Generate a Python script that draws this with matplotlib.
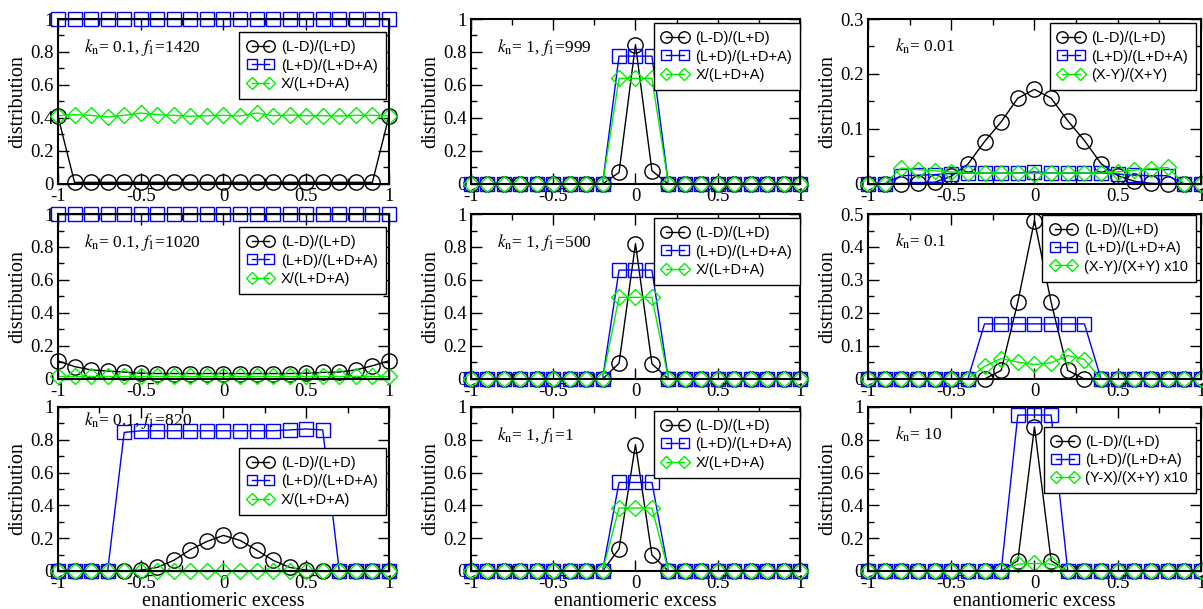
import numpy as np
import matplotlib
matplotlib.use('Agg')
import matplotlib.pyplot as plt
from matplotlib.ticker import MultipleLocator, FormatStrFormatter

plt.rcParams['font.family'] = ['Liberation Serif', 'DejaVu Serif']
plt.rcParams['mathtext.fontset'] = 'stix'
plt.rcParams['axes.unicode_minus'] = False

# enantiomeric excess grid, -1 .. 1 in steps of 0.1
ee = np.round(np.arange(-1, 1.0001, 0.1), 2)

# panel labels
titles = [
    [r'$k_{\rm n}$= 0.1, $f_1$=1420', r'$k_{\rm n}$= 1, $f_1$=999', r'$k_{\rm n}$= 0.01'],
    [r'$k_{\rm n}$= 0.1, $f_1$=1020', r'$k_{\rm n}$= 1, $f_1$=500', r'$k_{\rm n}$= 0.1'],
    [r'$k_{\rm n}$= 0.1, $f_1$=820', r'$k_{\rm n}$= 1, $f_1$=1', r'$k_{\rm n}$= 10'],
]
third_labels = [
    ['X/(L+D+A)', 'X/(L+D+A)', '(X-Y)/(X+Y)'],
    ['X/(L+D+A)', 'X/(L+D+A)', '(X-Y)/(X+Y) x10'],
    ['X/(L+D+A)', 'X/(L+D+A)', '(Y-X)/(X+Y) x10'],
]

# row 1
ld_1420 = [0.41, 0.01, 0.01, 0.01, 0.01, 0.01, 0.01, 0.01, 0.01, 0.01, 0.01,
           0.01, 0.01, 0.01, 0.01, 0.01, 0.01, 0.01, 0.01, 0.01, 0.41]
lda_1420 = [1.0] * 21
x_1420 = [0.414, 0.42, 0.416, 0.406, 0.416, 0.43, 0.42, 0.416, 0.41, 0.414, 0.416,
          0.412, 0.43, 0.414, 0.418, 0.414, 0.414, 0.412, 0.416, 0.416, 0.412]

ld_999 = [0, 0, 0, 0, 0, 0, 0, 0, 0, 0.07, 0.845, 0.08, 0, 0, 0, 0, 0, 0, 0, 0, 0]
lda_999 = [0, 0, 0, 0, 0, 0, 0, 0, 0, 0.775, 0.775, 0.775, 0, 0, 0, 0, 0, 0, 0, 0, 0]
x_999 = [0, 0, 0, 0, 0, 0, 0, 0, 0, 0.64, 0.64, 0.64, 0, 0, 0, 0, 0, 0, 0, 0, 0]

ld_k001 = [0, 0, 0, 0.002, 0.003, 0.014, 0.036, 0.077, 0.113, 0.156, 0.172,
           0.156, 0.115, 0.079, 0.037, 0.015, 0.005, 0.001, 0, 0, 0]
lda_k001 = [0, 0, 0.015, 0.016, 0.017, 0.019, 0.02, 0.02, 0.02, 0.02, 0.022,
            0.02, 0.02, 0.02, 0.02, 0.018, 0.016, 0.015, 0.015, 0, 0]
xy_k001 = [0, 0, 0.029, 0.026, 0.024, 0.022, 0.02, 0.02, 0.02, 0.02, 0.019,
           0.02, 0.02, 0.02, 0.02, 0.022, 0.025, 0.028, 0.03, 0, 0]

# row 2
ld_1020 = [0.11, 0.075, 0.055, 0.048, 0.042, 0.035, 0.033, 0.033, 0.033, 0.033, 0.033,
           0.033, 0.033, 0.033, 0.033, 0.035, 0.04, 0.042, 0.055, 0.08, 0.11]
lda_1020 = [1.0] * 21
x_1020 = [0.02] * 21

ld_500 = [0, 0, 0, 0, 0, 0, 0, 0, 0, 0.095, 0.82, 0.092, 0, 0, 0, 0, 0, 0, 0, 0, 0]
lda_500 = [0, 0, 0, 0, 0, 0, 0, 0, 0, 0.66, 0.66, 0.66, 0, 0, 0, 0, 0, 0, 0, 0, 0]
x_500 = [0, 0, 0, 0, 0, 0, 0, 0, 0, 0.495, 0.495, 0.495, 0, 0, 0, 0, 0, 0, 0, 0, 0]

ld_k01 = [0, 0, 0, 0, 0, 0, 0, 0, 0.026, 0.233, 0.48, 0.233, 0.026, 0, 0, 0, 0, 0, 0, 0, 0]
lda_k01 = [0, 0, 0, 0, 0, 0, 0, 0.167, 0.167, 0.167, 0.167, 0.167, 0.167, 0.167,
           0, 0, 0, 0, 0, 0, 0]
xy_k01 = [0, 0, 0, 0, 0, 0, 0, 0.038, 0.062, 0.051, 0.044, 0.049, 0.071, 0.059,
          0, 0, 0, 0, 0, 0, 0]

# row 3
ld_820 = [0, 0, 0, 0, 0, 0.005, 0.022, 0.065, 0.13, 0.18, 0.217,
          0.187, 0.128, 0.065, 0.022, 0.005, 0, 0, 0, 0, 0]
lda_820 = [0, 0, 0, 0, 0.845, 0.855, 0.855, 0.855, 0.855, 0.855, 0.855,
           0.855, 0.855, 0.855, 0.86, 0.866, 0.86, 0, 0, 0, 0]
x_820 = [0.0] * 21

ld_1 = [0, 0, 0, 0, 0, 0, 0, 0, 0, 0.135, 0.77, 0.097, 0, 0, 0, 0, 0, 0, 0, 0, 0]
lda_1 = [0, 0, 0, 0, 0, 0, 0, 0, 0, 0.54, 0.54, 0.54, 0, 0, 0, 0, 0, 0, 0, 0, 0]
x_1 = [0, 0, 0, 0, 0, 0, 0, 0, 0, 0.384, 0.384, 0.384, 0, 0, 0, 0, 0, 0, 0, 0, 0]

ld_k10 = [0, 0, 0, 0, 0, 0, 0, 0, 0, 0.063, 0.879, 0.063, 0, 0, 0, 0, 0, 0, 0, 0, 0]
lda_k10 = [0, 0, 0, 0, 0, 0, 0, 0, 0, 0.951, 0.951, 0.951, 0, 0, 0, 0, 0, 0, 0, 0, 0]
yx_k10 = [0, 0, 0, 0, 0, 0, 0, 0, 0, 0.042, 0.046, 0.042, 0, 0, 0, 0, 0, 0, 0, 0, 0]

series = [
    [(ld_1420, lda_1420, x_1420), (ld_999, lda_999, x_999), (ld_k001, lda_k001, xy_k001)],
    [(ld_1020, lda_1020, x_1020), (ld_500, lda_500, x_500), (ld_k01, lda_k01, xy_k01)],
    [(ld_820, lda_820, x_820), (ld_1, lda_1, x_1), (ld_k10, lda_k10, yx_k10)],
]
ymax = [[1, 1, 0.3], [1, 1, 0.5], [1, 1, 1]]

# layout (figure fractions)
col_x = [0.0482, 0.3915, 0.7215]
col_w = [0.2751, 0.2735, 0.2768]
row_y = [0.6979, 0.3777, 0.0624]
row_h = [0.2709, 0.2709, 0.2693]
leg_top = [[0.92, 0.975, 0.975], [0.92, 0.975, 0.995], [0.75, 0.975, 0.88]]
leg_right = [[0.99, 1.0, 0.985], [0.99, 1.0, 0.985], [0.99, 1.0, 0.985]]
txt_y = [[0.80, 0.80, 0.80], [0.80, 0.80, 0.80], [0.89, 0.80, 0.80]]

fig = plt.figure(figsize=(12.03, 6.09), dpi=100)

for r in range(3):
    for c in range(3):
        ax = fig.add_axes([col_x[c], row_y[r], col_w[c], row_h[r]])
        ld, lda, third = series[r][c]
        ax.plot(ee, ld, color='black', lw=1, marker='o', ms=11, mfc='none',
                mec='black', mew=1, clip_on=False, label='(L-D)/(L+D)')
        ax.plot(ee, lda, color='blue', lw=1, marker='s', ms=10, mfc='none',
                mec='blue', mew=1, clip_on=False, label='(L+D)/(L+D+A)')
        ax.plot(ee, third, color='#00ee00', lw=1, marker='D', ms=8, mfc='none',
                mec='#00ee00', mew=1, clip_on=False, label=third_labels[r][c])
        ax.set_xlim(-1, 1)
        ax.set_ylim(0, ymax[r][c])
        ax.xaxis.set_major_locator(MultipleLocator(0.5))
        ax.xaxis.set_minor_locator(MultipleLocator(0.25))
        if ymax[r][c] == 1:
            ax.yaxis.set_major_locator(MultipleLocator(0.2))
            ax.yaxis.set_minor_locator(MultipleLocator(0.1))
        else:
            ax.yaxis.set_major_locator(MultipleLocator(0.1))
            ax.yaxis.set_minor_locator(MultipleLocator(0.05))
        ax.xaxis.set_major_formatter(FormatStrFormatter('%g'))
        ax.yaxis.set_major_formatter(FormatStrFormatter('%g'))
        ax.tick_params(which='both', direction='in', top=True, right=True,
                       labelsize=13.5, width=1, pad=3)
        ax.tick_params(which='major', length=8)
        ax.tick_params(which='minor', length=4)
        for s in ax.spines.values():
            s.set_linewidth(1.5)
        ax.set_ylabel('distribution', fontsize=14.5, labelpad=2)
        if r == 2:
            ax.set_xlabel('enantiomeric excess', fontsize=14.5, labelpad=0)
        ax.text(0.08, txt_y[r][c], titles[r][c], transform=ax.transAxes, fontsize=12.5)
        leg = ax.legend(loc='upper right', bbox_to_anchor=(leg_right[r][c], leg_top[r][c]),
                        borderaxespad=0, numpoints=2, markerscale=0.75, handlelength=1.8,
                        handletextpad=0.5, labelspacing=0.3, borderpad=0.55,
                        fancybox=False, framealpha=1, edgecolor='black',
                        prop={'family': 'Liberation Sans', 'size': 10.5})
        leg.get_frame().set_linewidth(1)

fig.savefig('out.png', dpi=100)
